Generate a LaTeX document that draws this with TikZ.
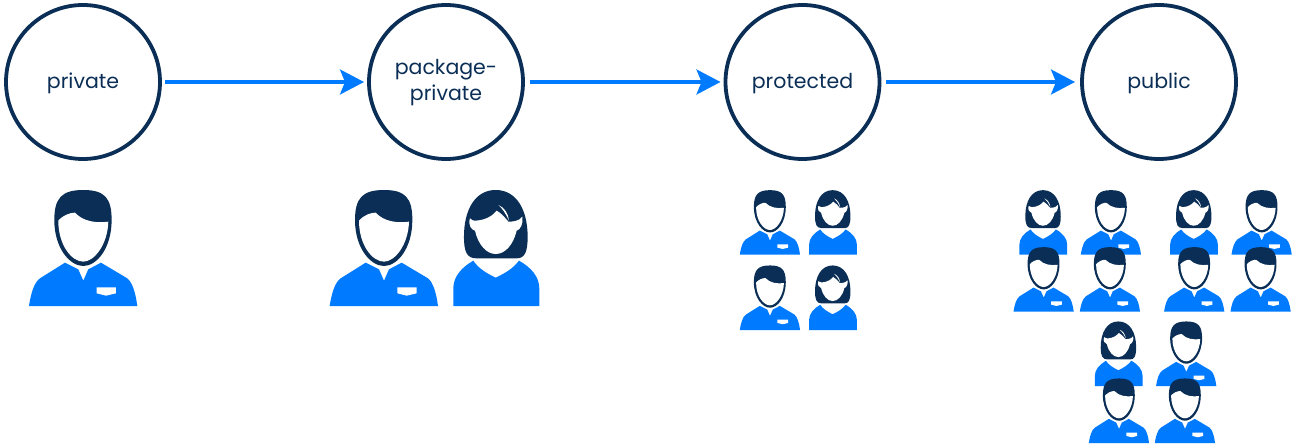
\documentclass[tikz,border=0pt]{standalone}
\usepackage{fontspec}
\setmainfont{Poppins}
\usetikzlibrary{arrows.meta}
\definecolor{navy}{HTML}{0A2E55}
\definecolor{azure}{HTML}{007BFF}
\newcommand\lift{\rule{0pt}{19pt}}
\tikzset{
  level/.style={circle,draw=navy,line width=3.8pt,minimum size=154pt,inner sep=0pt,outer sep=5pt,
    text=navy,align=center,font=\fontsize{20.5}{26}\selectfont},
  flow/.style={draw=azure,line width=3.2pt,-{Stealth[length=24pt,width=25pt,inset=5pt]}},
  big/.style={scale=1/3},
  small/.style={scale=0.1855},
  pics/man/.style={code={
    \begin{scope}[shift={(-190,-378)}]
      \fill[azure] (27,378) .. controls (33,340) and (42,308) .. (60,295) -- (135,248)
        -- (175,268) -- (190,302) -- (205,268) -- (243,248) -- (322,295)
        .. controls (338,308) and (347,340) .. (352,378) -- cycle;
      \fill[white] (230,322) -- (288,322) -- (288,340) -- (258,347) -- (230,340) -- cycle;
      \fill[navy] (190,30) .. controls (125,30) and (103,55) .. (103,120)
        .. controls (103,205) and (150,258) .. (190,258)
        .. controls (230,258) and (275,205) .. (275,120)
        .. controls (275,55) and (255,30) .. (190,30) -- cycle;
      \fill[white] (115,122) .. controls (130,105) and (150,98) .. (165,98)
        .. controls (190,125) and (230,130) .. (265,125)
        .. controls (263,195) and (222,245) .. (190,245)
        .. controls (155,245) and (115,195) .. (115,122) -- cycle;
    \end{scope}}},
  pics/woman/.style={code={
    \begin{scope}[shift={(-154,-378)}]
      \fill[azure] (25,378) -- (25,325) .. controls (25,290) and (50,262) .. (85,242)
        .. controls (100,265) and (125,280) .. (152,293)
        .. controls (180,280) and (205,265) .. (222,242)
        .. controls (258,262) and (283,290) .. (283,325) -- (283,378) -- cycle;
      \fill[navy] (152,30) .. controls (90,30) and (57,90) .. (57,170)
        .. controls (57,215) and (65,235) .. (95,235) -- (215,235)
        .. controls (240,235) and (248,215) .. (248,170)
        .. controls (248,90) and (215,30) .. (152,30) -- cycle;
      \fill[white] (75,115) .. controls (80,122) and (86,122) .. (92,122)
        .. controls (125,120) and (145,105) .. (155,92)
        .. controls (170,100) and (182,115) .. (190,125)
        .. controls (200,125) and (222,125) .. (232,110)
        .. controls (236,130) and (226,150) .. (215,152)
        .. controls (205,195) and (180,222) .. (152,222)
        .. controls (125,222) and (100,195) .. (90,152)
        .. controls (80,150) and (68,135) .. (75,115) -- cycle;
      \fill[white] (160,75) .. controls (178,82) and (190,100) .. (192,122)
        .. controls (182,100) and (172,85) .. (160,75) -- cycle;
    \end{scope}}}
}
\begin{document}
\begin{tikzpicture}[x=1pt,y=-1pt]
\useasboundingbox (0,0) rectangle (1297,446);
\node[level] (priv) at (83,82) {\lift private};
\node[level] (pack) at (446,82) {\rule{0pt}{17pt}package-\\private};
\node[level] (prot) at (802.5,82) {\lift protected};
\node[level] (publ) at (1159,82) {\lift public};
\draw[flow] (priv) -- (pack);
\draw[flow,shorten <=2pt] (pack) -- (prot);
\draw[flow,shorten <=1.5pt,shorten >=2pt] (prot) -- (publ);
% large figures
\pic[big] at (83.3,306) {man};
\pic[big] at (384,306) {man};
\pic[big] at (496.3,306) {woman};
% protected
\pic[small] at (770,254.7) {man};
\pic[small] at (833,254.7) {woman};
\pic[small] at (770,330) {man};
\pic[small] at (833,330) {woman};
% public
\pic[small] at (1043.3,254.7) {woman};
\pic[small] at (1111,254.7) {man};
\pic[small] at (1194,254.7) {woman};
\pic[small] at (1261.7,254.7) {man};
\pic[small] at (1043.7,311.7) {man};
\pic[small] at (1110,311.7) {man};
\pic[small] at (1194.3,311.7) {man};
\pic[small] at (1260.7,311.7) {man};
\pic[small] at (1118.7,386) {woman};
\pic[small] at (1186.3,386) {man};
\pic[small] at (1119,443) {man};
\pic[small] at (1185,443) {man};
\end{tikzpicture}
\end{document}
